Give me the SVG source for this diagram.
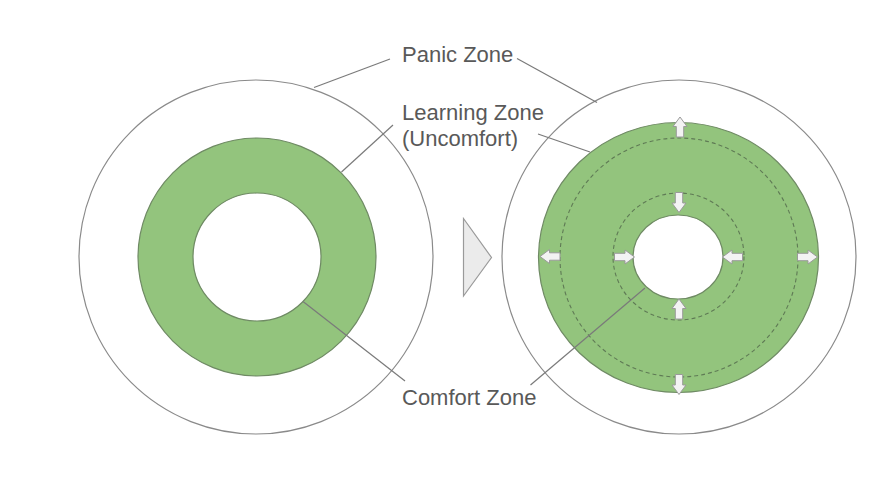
<svg xmlns="http://www.w3.org/2000/svg" xmlns:xlink="http://www.w3.org/1999/xlink" width="888" height="478" viewBox="0 0 888 478">
<style>
.bg{fill:#ffffff}
.panic{fill:#ffffff;stroke:#8a8a8a;stroke-width:1.2}
.learn{fill:#93c47d;stroke:#6f8a64;stroke-width:1.2}
.comfort{fill:#ffffff;stroke:#6f8a64;stroke-width:1.2}
.dash{fill:none;stroke:#5f7a55;stroke-width:1.1;stroke-dasharray:4 3}
.lead{fill:none;stroke:#7a7a7a;stroke-width:1.2}
.lbl{font-family:"Liberation Sans",Arial,sans-serif;font-size:22px;fill:#595959}
.arr{fill:#f3f3f3;stroke:#9a9a9a;stroke-width:1}
.tri{fill:#ebebeb;stroke:#9a9a9a;stroke-width:1.2}
</style>
<defs>
<path id="au" class="arr" d="M0,-10 L7,-0.5 L3.7,-0.5 L3.7,10 L-3.7,10 L-3.7,-0.5 L-7,-0.5 Z"/>
</defs>
<rect class="bg" x="0" y="0" width="888" height="478"/>
<g id="before">
<circle id="before-panic" class="panic" cx="256" cy="257" r="177"/>
<circle id="before-learning" class="learn" cx="257" cy="257" r="119"/>
<circle id="before-comfort" class="comfort" cx="257" cy="257" r="64"/>
</g>
<g id="transition">
<path class="tri" d="M463.5,218.5 L491.5,257.5 L463.5,296 Z"/>
</g>
<g id="after">
<circle id="after-panic" class="panic" cx="679" cy="257" r="177"/>
<ellipse id="after-learning" class="learn" cx="678.5" cy="257.5" rx="140" ry="135"/>
<ellipse id="after-outer-dash" class="dash" cx="679" cy="257.5" rx="119" ry="119.5"/>
<ellipse id="after-inner-dash" class="dash" cx="678.5" cy="256.5" rx="65.5" ry="63.5"/>
<ellipse id="after-comfort" class="comfort" cx="678" cy="257" rx="45" ry="42"/>
<g id="after-arrows">
<use xlink:href="#au" href="#au" transform="translate(680,127)"/>
<use xlink:href="#au" href="#au" transform="translate(679,384.5) rotate(180)"/>
<use xlink:href="#au" href="#au" transform="translate(550,256.5) rotate(-90)"/>
<use xlink:href="#au" href="#au" transform="translate(807.5,257) rotate(90)"/>
<use xlink:href="#au" href="#au" transform="translate(679,202.5) rotate(180)"/>
<use xlink:href="#au" href="#au" transform="translate(679,309) "/>
<use xlink:href="#au" href="#au" transform="translate(624.5,257) rotate(90)"/>
<use xlink:href="#au" href="#au" transform="translate(732.5,257) rotate(-90)"/>
</g>
</g>
<g id="connectors">
<line class="lead" x1="390" y1="59" x2="314" y2="87.5"/>
<line class="lead" x1="517" y1="58.5" x2="597" y2="102.5"/>
<line class="lead" x1="393" y1="125" x2="341.5" y2="172"/>
<line class="lead" x1="538" y1="134" x2="590" y2="152"/>
<line class="lead" x1="405" y1="381" x2="303" y2="301.5"/>
<line class="lead" x1="530.5" y1="385" x2="645" y2="288"/>
</g>
<g id="label-panic"><text class="lbl" x="402" y="62">Panic Zone</text></g>
<g id="label-learning"><text class="lbl" x="402" y="120">Learning Zone</text><text class="lbl" x="402" y="146">(Uncomfort)</text></g>
<g id="label-comfort"><text class="lbl" x="402" y="405">Comfort Zone</text></g>
</svg>
